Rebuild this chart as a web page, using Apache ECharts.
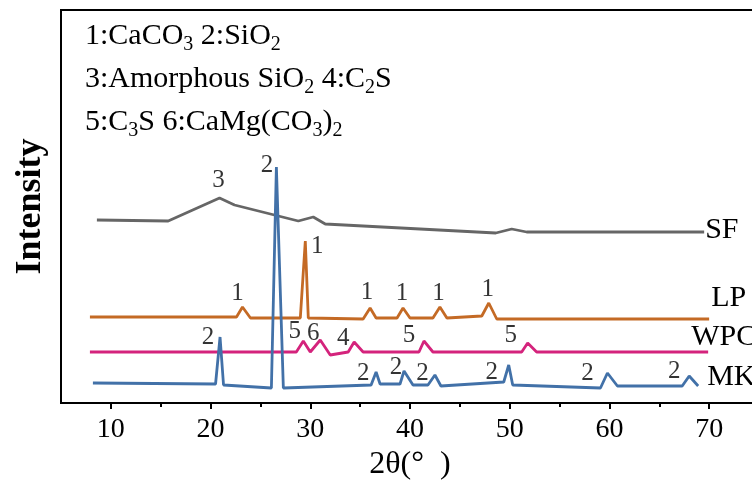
<!DOCTYPE html>
<html>
<head>
<meta charset="utf-8">
<script src="https://cdn.jsdelivr.net/npm/echarts@6/dist/echarts.min.js"></script>
<style>
  html, body { margin: 0; padding: 0; background: #fff; }
  #chart { width: 752px; height: 480px; }
</style>
</head>
<body>
<div id="chart"></div>
<script>
// 2θ ticks
const xTicks = [10, 20, 30, 40, 50, 60, 70];
const xMinorTicks = [15, 25, 35, 45, 55, 65, 75];

// XRD traces, stacked with an offset (a.u.)
const sfData = [[8.6, 183], [15.75, 182], [20.9, 205], [22.4, 198], [28.8, 182], [30.3, 186], [31.5, 179],
  [48.6, 170], [50.2, 174], [51.7, 171], [69.5, 171]];
const lpData = [[7.9, 86], [22.6, 86], [23.2, 96], [24.0, 85], [29.0, 85], [29.5, 162], [29.8, 85],
  [35.3, 84], [36.0, 95], [36.6, 85], [38.7, 85], [39.3, 95], [40.0, 85], [42.3, 85], [43.0, 96],
  [43.7, 85], [47.2, 87], [47.9, 100], [48.7, 84], [70.0, 84]];
const wpcData = [[7.9, 51], [28.6, 51], [29.3, 62], [30.0, 51], [31.0, 63], [32.0, 48], [33.8, 51],
  [34.4, 61], [35.3, 51], [40.9, 51], [41.4, 62], [42.3, 51], [51.2, 51], [51.8, 60], [52.7, 51], [69.9, 51]];
const mkData = [[8.2, 20], [20.5, 19], [20.95, 66], [21.3, 18], [26.1, 15], [26.6, 236], [27.3, 15],
  [36.1, 18], [36.6, 31], [37.0, 19], [39.0, 19], [39.4, 32], [40.3, 18], [41.8, 18], [42.5, 28],
  [43.1, 17], [49.4, 21], [49.9, 38], [50.3, 18], [59.1, 15], [59.8, 30], [60.8, 17], [67.3, 17],
  [68.0, 27], [68.9, 17]];

// phase marks: [2θ, height, phase number]
const sfPeaks = [[20.8, 223, '3']];
const lpPeaks = [[22.7, 110, '1'], [30.7, 157, '1'], [35.7, 111, '1'], [39.2, 110, '1'], [42.85, 110, '1'], [47.8, 114, '1']];
const wpcPeaks = [[28.45, 72, '5'], [30.3, 70, '6'], [33.3, 65, '4'], [39.9, 68, '5'], [50.1, 68, '5']];
const mkPeaks = [[25.65, 238, '2'], [19.75, 66, '2'], [35.3, 30, '2'], [38.6, 36, '2'], [41.25, 30, '2'],
  [48.2, 31, '2'], [57.8, 30, '2'], [66.5, 32, '2']];

const FONT = "'Times New Roman', 'Liberation Serif', serif";

function trace(name, data, color, offset) {
  return {
    name: name,
    type: 'line',
    data: data,
    symbol: 'none',
    lineStyle: { color: color, width: 2.8 },
    endLabel: {
      show: true,
      formatter: '{a}',
      distance: 0,
      offset: offset,
      color: '#000',
      fontSize: 30,
      fontFamily: FONT
    }
  };
}

const legendLines = [
  '1:CaCO{s|3} 2:SiO{s|2}',
  '3:Amorphous SiO{s|2} 4:C{s|2}S',
  '5:C{s|3}S 6:CaMg(CO{s|3}){s|2}'
];

const chart = echarts.init(document.getElementById('chart'));
chart.setOption({
  animation: false,
  grid: {
    left: 61, right: -7, top: 10, bottom: 77,
    outerBoundsMode: 'none',
    show: true, borderColor: '#000', borderWidth: 2
  },
  xAxis: [
    {
      type: 'value',
      min: 5,
      max: 75,
      name: '2θ(°  )',
      nameLocation: 'middle',
      nameGap: 42,
      nameTextStyle: { fontSize: 32, fontFamily: FONT, color: '#000' },
      axisLine: { show: true, lineStyle: { color: '#000', width: 2 } },
      axisTick: { show: true, length: 6, customValues: xTicks, lineStyle: { color: '#000', width: 2 } },
      axisLabel: { customValues: xTicks, margin: 13, fontSize: 28, fontFamily: FONT, color: '#000' },
      splitLine: { show: false }
    },
    {
      type: 'value',
      min: 5,
      max: 75,
      position: 'bottom',
      axisLine: { show: false },
      axisTick: { show: true, length: 4, customValues: xMinorTicks, lineStyle: { color: '#000', width: 2 } },
      axisLabel: { show: false },
      splitLine: { show: false }
    }
  ],
  yAxis: {
    type: 'value',
    min: 0,
    max: 393,
    name: 'Intensity',
    nameLocation: 'middle',
    nameGap: 12,
    nameTextStyle: { fontSize: 36, fontWeight: 'bold', fontFamily: FONT, color: '#000' },
    axisLine: { show: false },
    axisTick: { show: false },
    axisLabel: { show: false },
    splitLine: { show: false }
  },
  graphic: legendLines.map((t, i) => ({
    type: 'text',
    left: 85,
    top: 21 + i * 43,
    style: {
      text: t,
      fontSize: 30,
      fontFamily: FONT,
      fill: '#000',
      rich: { s: { fontSize: 20, fontFamily: FONT, padding: [18, 0, 0, 0] } }
    }
  })),
  series: [
    trace('SF', sfData, '#666666', [1, -2]),
    trace('LP', lpData, '#c46a25', [2, -21]),
    trace('WPC', wpcData, '#d4237c', [-17, -15]),
    trace('MK', mkData, '#4271a8', [9, -9]),
    {
      type: 'scatter',
      data: [].concat(sfPeaks, lpPeaks, wpcPeaks, mkPeaks),
      symbolSize: 1,
      itemStyle: { color: 'transparent' },
      label: {
        show: true,
        position: 'inside',
        formatter: p => p.value[2],
        color: '#000',
        fontSize: 25,
        fontFamily: FONT
      },
      z: 5
    }
  ]
});
</script>
</body>
</html>
